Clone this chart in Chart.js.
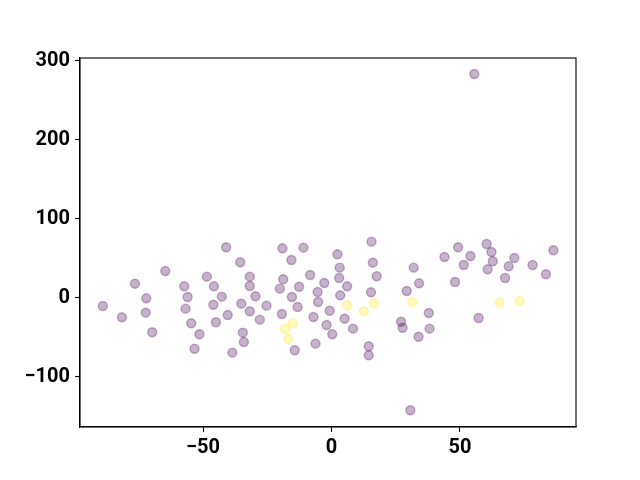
<!DOCTYPE html>
<html lang="en">
<head>
    <meta charset="UTF-8">
    <title>Scatter</title>
    <script src="https://cdn.jsdelivr.net/npm/chart.js"></script>
    <style>
        body { margin: 0; background: #fff; }
        canvas { display: block; }
    </style>
</head>
<body>
    <canvas id="scatterChart" width="640" height="480"></canvas>

    <script>
        // purple group (class 0)
        const purpleX = [-41.0, -35.5, -31.8, -64.7, -76.5, -48.5, -57.3, -45.8, -31.8, -72.1,
            -56.0, -42.7, -89.0, -56.8, -46.0, -35.1, -31.8, -81.6, -72.3, -40.4,
            -54.6, -45.0, -69.8, -51.4, -34.5, -34.1, -53.3, -38.6, -19.1, -10.9,
            15.6, -15.6, 2.3, 3.2, 16.1, 17.6, -18.8, -8.3, 3.0, -20.1,
            -12.6, -2.8, 6.1, -5.4, 15.4, 29.3, -29.6, -15.4, 3.4, -5.2,
            -25.3, -13.2, -19.3, -0.7, -27.9, -7.0, 5.1, -1.9, 8.4, 27.1,
            27.7, 0.3, -6.2, 14.5, -14.3, 14.5, 60.4, 49.3, 44.0, 54.1,
            62.3, 62.8, 86.4, 71.2, 51.5, 69.0, 78.3, 60.8, 32.0, 83.5,
            67.6, 48.1, 34.1, 37.9, 57.3, 38.2, 33.9, 55.6, 30.7];
        const purpleY = [63.8, 44.8, 26.6, 33.8, 17.7, 26.6, 14.4, 14.4, 14.8, -0.8,
            0.9, 1.3, -10.5, -13.9, -8.9, -7.6, -17.2, -24.8, -19.0, -21.9,
            -32.4, -31.1, -43.8, -46.3, -44.3, -56.1, -64.6, -69.6, 62.5, 63.3,
            70.9, 47.7, 54.9, 38.0, 44.3, 27.1, 23.3, 28.7, 24.9, 11.4,
            13.9, 18.6, 14.4, 7.2, 6.8, 8.5, 1.8, 0.9, 3.0, -5.4,
            -10.1, -11.8, -20.6, -16.5, -27.8, -24.4, -26.6, -34.6, -39.2, -30.4,
            -38.0, -46.3, -58.2, -61.5, -66.6, -72.9, 68.0, 63.8, 51.5, 52.8,
            57.8, 46.1, 60.0, 50.3, 41.4, 39.7, 41.4, 35.9, 38.0, 29.6,
            24.9, 19.9, 18.2, -19.4, -25.7, -39.2, -49.4, 283.2, -142.5];

        // yellow group (class 1)
        const yellowX = [6.1, 16.6, 12.6, 31.6, 65.4, 73.3, -15.1, -18.2, -16.8];
        const yellowY = [-9.6, -7.1, -17.2, -5.4, -6.3, -4.2, -32.4, -39.6, -52.3];

        const xTicks = [-50, 0, 50];
        const yTicks = [-100, 0, 100, 200, 300];

        function toPoints(xs, ys) {
            return xs.map((x, i) => ({ x: x, y: ys[i] }));
        }

        function fmt(v) {
            return String(v).replace('-', '\u2212');
        }

        // draw the top/right sides of the box
        const framePlugin = {
            id: 'frame',
            afterDraw(chart) {
                const a = chart.chartArea;
                const ctx = chart.ctx;
                ctx.save();
                ctx.strokeStyle = '#000';
                ctx.lineWidth = 1.1;
                ctx.strokeRect(a.left, a.top, a.right - a.left, a.bottom - a.top);
                ctx.restore();
            }
        };

        const tickFont = { family: 'Roboto', size: 20, weight: 'bold' };

        new Chart(document.getElementById('scatterChart'), {
            type: 'scatter',
            data: {
                datasets: [{
                    data: toPoints(purpleX, purpleY),
                    backgroundColor: 'rgba(68, 1, 84, 0.3)',
                    borderColor: 'rgba(68, 1, 84, 0.3)',
                    borderWidth: 1.4,
                    pointRadius: 4.5,
                    pointHoverRadius: 4.5
                }, {
                    data: toPoints(yellowX, yellowY),
                    backgroundColor: 'rgba(253, 231, 37, 0.3)',
                    borderColor: 'rgba(253, 231, 37, 0.3)',
                    borderWidth: 1.4,
                    pointRadius: 4.5,
                    pointHoverRadius: 4.5
                }]
            },
            options: {
                responsive: false,
                animation: false,
                layout: { padding: { top: 58, right: 64, left: 0, bottom: 0 } },
                plugins: {
                    legend: { display: false },
                    tooltip: { enabled: false }
                },
                scales: {
                    x: {
                        type: 'linear',
                        min: -97.9,
                        max: 95.2,
                        afterBuildTicks: s => { s.ticks = xTicks.map(v => ({ value: v })); },
                        afterFit: s => { s.height = 53; },
                        grid: {
                            display: true,
                            drawOnChartArea: false,
                            drawTicks: true,
                            tickLength: 5,
                            tickWidth: 1.1,
                            tickColor: '#000'
                        },
                        border: { display: true, color: '#000', width: 1.1 },
                        ticks: {
                            color: '#000',
                            font: tickFont,
                            padding: 4,
                            maxRotation: 0,
                            callback: v => fmt(v)
                        }
                    },
                    y: {
                        type: 'linear',
                        min: -163.7,
                        max: 303.4,
                        afterBuildTicks: s => { s.ticks = yTicks.map(v => ({ value: v })); },
                        afterFit: s => { s.width = 80; },
                        grid: {
                            display: true,
                            drawOnChartArea: false,
                            drawTicks: true,
                            tickLength: 5,
                            tickWidth: 1.1,
                            tickColor: '#000'
                        },
                        border: { display: true, color: '#000', width: 1.1 },
                        ticks: {
                            color: '#000',
                            font: tickFont,
                            padding: 5,
                            callback: v => fmt(v)
                        }
                    }
                }
            },
            plugins: [framePlugin]
        });
    </script>
</body>
</html>
